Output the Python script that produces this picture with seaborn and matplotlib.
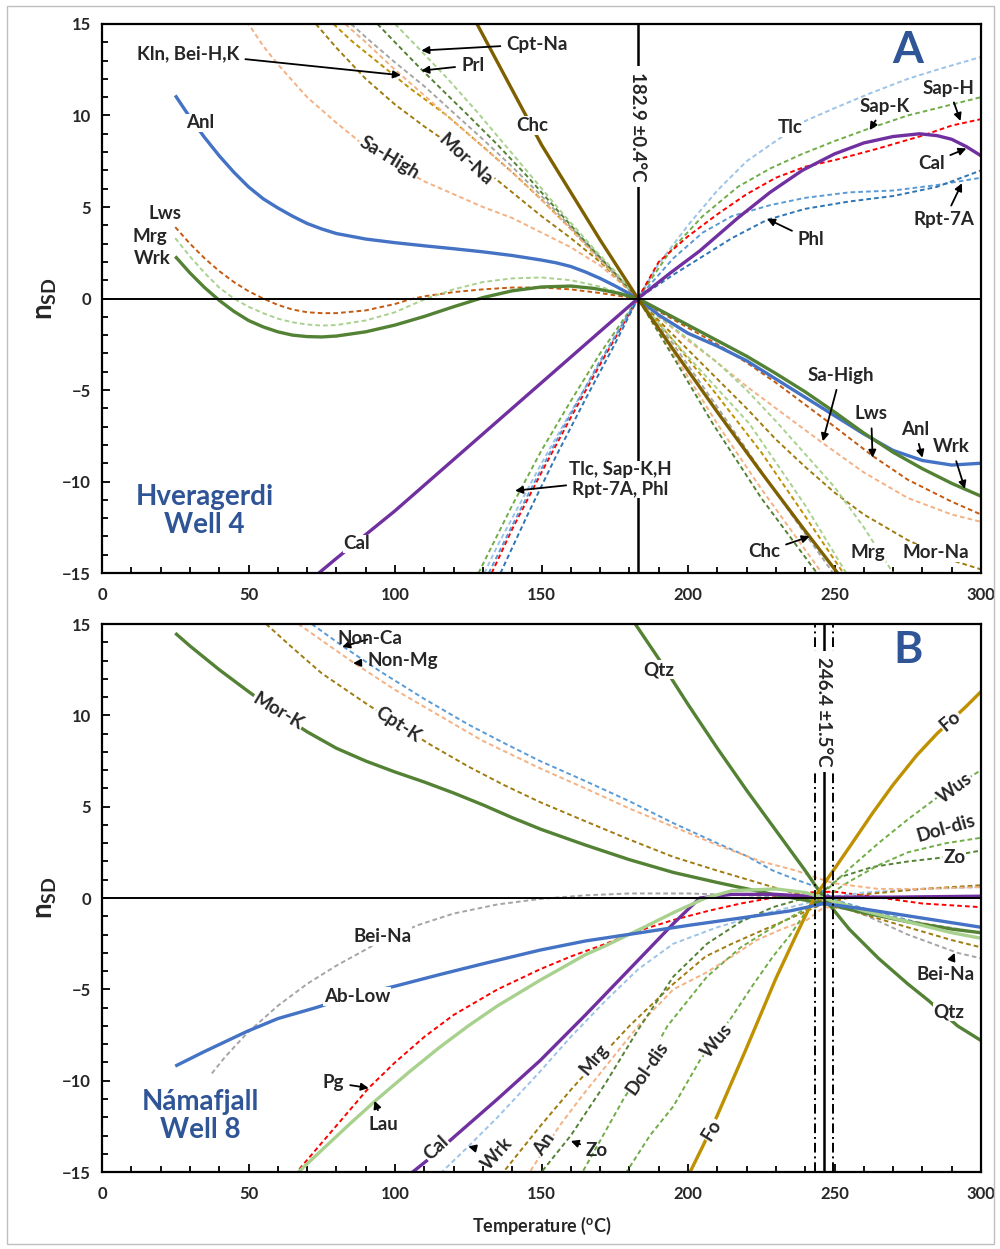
import matplotlib
matplotlib.use("Agg")
import matplotlib.pyplot as plt
import pandas as pd
import seaborn as sns
from matplotlib.patches import Rectangle
from matplotlib.ticker import MultipleLocator

# ---------------- Panel A: Hveragerdi Well 4  (temperature degC, n_SD) ----------------
A_T_EQ = 182.9
A_ANL = [(25, 11.1), (30, 9.9), (35, 8.8), (40, 7.8), (45, 6.9), (50, 6.1), (55, 5.45), (60, 4.95),
         (65, 4.5), (70, 4.1), (75, 3.8), (80, 3.55), (85, 3.4), (90, 3.25), (100, 3.05), (110, 2.88),
         (120, 2.72), (130, 2.55), (140, 2.35), (150, 2.1), (155, 1.95), (160, 1.75), (165, 1.45),
         (170, 1.1), (175, 0.7), (179, 0.35), (182.9, 0.0), (190, -0.9), (200, -1.9), (210, -2.6),
         (220, -3.4), (230, -4.4), (240, -5.4), (250, -6.4), (260, -7.4), (270, -8.3), (280, -8.85),
         (290, -9.1), (300, -9.0)]
A_WRK = [(25, 2.3), (30, 1.4), (35, 0.6), (40, -0.1), (45, -0.7), (50, -1.2), (55, -1.55), (60, -1.82),
         (65, -2.0), (70, -2.08), (75, -2.1), (80, -2.05), (90, -1.82), (100, -1.45), (110, -0.98),
         (120, -0.45), (130, 0.05), (140, 0.42), (150, 0.63), (160, 0.68), (168, 0.55), (176, 0.3),
         (182.9, 0.0), (190, -0.6), (200, -1.45), (210, -2.3), (220, -3.15), (230, -4.1), (240, -5.1),
         (250, -6.2), (260, -7.35), (270, -8.4), (280, -9.3), (290, -10.1), (300, -10.8)]
A_MRG = [(25, 3.3), (30, 2.3), (35, 1.4), (40, 0.6), (45, 0.0), (50, -0.45), (55, -0.8), (60, -1.1),
         (65, -1.3), (70, -1.42), (75, -1.48), (80, -1.45), (90, -1.2), (100, -0.75), (110, -0.05),
         (120, 0.5), (130, 0.9), (140, 1.1), (150, 1.15), (160, 1.0), (170, 0.65), (176, 0.35),
         (182.9, 0.0), (190, -1.0), (200, -2.2), (210, -3.5), (220, -5.0), (230, -6.7), (240, -8.5),
         (250, -10.3), (260, -12.5), (270, -15.0), (275, -16.3)]
A_LWS = [(25, 3.9), (30, 3.0), (35, 2.2), (40, 1.5), (45, 0.9), (50, 0.4), (55, 0.0), (60, -0.35),
         (65, -0.6), (70, -0.75), (75, -0.8), (80, -0.8), (90, -0.65), (100, -0.3), (105, -0.05),
         (110, 0.12), (120, 0.35), (130, 0.5), (140, 0.6), (150, 0.6), (160, 0.5), (170, 0.3),
         (176, 0.15), (182.9, 0.0), (190, -0.7), (200, -1.6), (210, -2.5), (220, -3.5), (230, -4.6),
         (240, -5.8), (250, -7.0), (263, -8.6), (275, -9.9), (290, -11.1), (300, -11.8)]
A_SAHIGH = [(48, 15.5), (50, 15.0), (55, 13.8), (60, 12.8), (70, 11.0), (80, 9.6), (90, 8.3),
            (100, 7.3), (110, 6.4), (120, 5.7), (130, 5.0), (140, 4.4), (150, 3.6), (160, 2.8),
            (170, 1.8), (176, 1.0), (182.9, 0.0), (190, -1.0), (200, -2.3), (210, -3.5), (220, -4.8),
            (230, -6.0), (246, -7.9), (260, -9.5), (275, -10.9), (290, -11.8), (300, -12.2)]
A_MORNA = [(73, 15.0), (80, 13.7), (90, 12.0), (100, 10.6), (110, 9.4), (120, 8.3), (130, 7.1),
           (140, 5.8), (150, 4.5), (160, 3.3), (170, 2.0), (176, 1.1), (182.9, 0.0), (190, -1.2),
           (200, -2.8), (210, -4.4), (220, -6.0), (230, -7.7), (240, -9.2), (250, -10.6),
           (260, -11.8), (275, -13.2), (290, -14.3), (300, -14.8)]
A_CHC = [(126, 15.5), (128, 15.0), (135, 12.9), (142, 10.8), (150, 8.4), (160, 5.8), (170, 3.2),
         (182.9, 0.0), (195, -2.8), (210, -6.2), (225, -9.5), (240, -12.7), (253, -15.4)]
A_KLN = [(79, 15.0), (85, 14.1), (95, 12.8), (105, 11.5), (117.7, 10.0), (130, 8.3), (140, 6.9),
         (150, 5.4), (160, 3.8), (170, 2.1), (182.9, 0.0), (195, -2.3), (210, -5.3), (225, -8.4),
         (240, -11.9), (253, -15.0), (256, -15.8)]
A_BEIH = [(83, 15.0), (90, 14.0), (100, 12.5), (110, 11.1), (117.7, 10.0), (130, 8.3), (140, 6.9),
          (150, 5.4), (160, 3.8), (170, 2.1), (182.9, 0.0), (195, -3.0), (210, -6.85), (225, -10.4),
          (245.7, -15.0), (248, -15.6)]
A_BEIK = [(85, 15.0), (92, 14.0), (100, 12.9), (110, 11.6), (121, 10.0), (130, 8.7), (140, 7.2),
          (150, 5.6), (160, 3.9), (170, 2.2), (182.9, 0.0), (195, -2.5), (214, -6.85), (230, -10.6),
          (249.5, -15.0), (252, -15.6)]
A_PRL = [(94, 15.0), (100, 14.0), (108.5, 12.6), (118, 11.1), (125, 10.0), (135, 8.4), (145, 6.7),
         (155, 4.9), (165, 3.1), (175, 1.4), (182.9, 0.0), (195, -3.2), (208.5, -6.85),
         (225, -10.9), (244, -15.0), (246, -15.5)]
A_CPTNA = [(100, 15.0), (108.5, 13.6), (118, 12.0), (128, 10.2), (138, 8.3), (148, 6.4), (158, 4.5),
           (168, 2.7), (175, 1.5), (182.9, 0.0), (195, -2.3), (221, -6.85), (240, -11.3),
           (254, -15.0), (256, -15.5)]
A_TLC = [(130.5, -15.0), (135, -13.5), (140, -12.0), (150, -9.0), (160, -6.2), (170, -3.5),
         (182.9, 0.0), (190, 1.9), (200, 4.0), (210, 5.9), (220, 7.5), (229, 8.5), (240, 9.7),
         (250, 10.4), (262, 11.2), (275, 12.0), (285, 12.5), (300, 13.2)]
A_SAPK = [(128.5, -15.0), (140, -11.3), (150, -8.3), (160, -5.6), (170, -3.0), (182.9, 0.0),
          (194, 2.6), (205, 4.5), (217, 6.1), (228, 7.1), (239, 7.9), (250, 8.6), (262, 9.3),
          (275, 10.0), (290, 10.6), (300, 11.0)]
A_SAPH = [(133, -15.0), (140, -12.6), (150, -9.5), (160, -6.5), (170, -3.6), (182.9, 0.0),
          (190, 2.0), (200, 3.4), (210, 4.6), (220, 5.7), (230, 6.6), (240, 7.2), (251, 7.6),
          (265, 8.2), (280, 8.9), (290, 9.45), (300, 9.8)]
A_CAL = [(74, -15.0), (80, -14.2), (90, -12.9), (100, -11.6), (110, -10.2), (120, -8.8), (130, -7.4),
         (140, -6.0), (150, -4.6), (160, -3.2), (170, -1.8), (182.9, 0.0), (194, 1.4), (204, 2.6),
         (217, 4.4), (228, 5.8), (239, 7.0), (250, 7.9), (260, 8.5), (270, 8.85), (279, 9.0),
         (285, 8.9), (290, 8.7), (295, 8.3), (300, 7.8)]
A_PHL = [(136, -15.0), (145, -11.9), (155, -8.6), (165, -5.5), (175, -2.5), (182.9, 0.0), (195, 1.3),
         (204, 2.2), (215, 3.3), (227, 4.3), (240, 4.9), (255, 5.3), (270, 5.6), (285, 6.1),
         (300, 7.0)]
A_RPT7A = [(132, -15.0), (140, -12.4), (150, -9.3), (160, -6.3), (170, -3.4), (182.9, 0.0),
           (195, 2.2), (205, 3.6), (215, 4.5), (228, 5.1), (240, 5.5), (255, 5.8), (270, 5.9),
           (285, 6.2), (300, 6.6)]

# ---------------- Panel B: Namafjall Well 8 ----------------
B_T_EQ = 246.4
B_T_ERR = 3.0
B_MORK = [(25, 14.5), (30, 13.8), (40, 12.5), (50, 11.3), (60, 10.15), (70, 9.1), (80, 8.2), (90, 7.5),
          (100, 6.9), (110, 6.35), (120, 5.75), (130, 5.1), (140, 4.4), (150, 3.75), (165, 2.9),
          (180, 2.1), (195, 1.4), (210, 0.85), (229, 0.2), (246.4, -0.3), (260, -0.8), (275, -1.3),
          (290, -1.7), (300, -1.9)]
B_QTZ = [(181, 15.5), (182, 15.0), (190, 13.1), (200, 10.6), (210, 8.2), (220, 5.9), (230, 3.7),
         (240, 1.5), (246.4, 0.0), (255, -1.7), (265, -3.3), (275, -4.7), (282, -5.6), (292, -7.0),
         (300, -7.8)]
B_FO = [(200, -15.2), (200.7, -15.0), (205, -13.6), (210, -11.9), (220, -8.2), (230, -4.4),
        (237, -2.0), (243, 0.0), (250, 1.6), (256, 3.0), (263, 4.65), (270, 6.2), (278, 7.8),
        (285, 9.0), (295, 10.5), (300, 11.3)]
B_CAL = [(106, -15.0), (113, -14.1), (120, -13.1), (135, -11.0), (149.5, -8.9), (165, -6.4),
         (180, -3.9), (195, -1.4), (204, 0.0), (215, 0.2), (230, 0.2), (246.4, 0.05), (270, 0.05),
         (300, 0.1)]
B_LAU = [(66, -15.5), (67, -15.0), (75, -13.8), (85, -12.3), (94, -11.0), (105, -9.5), (115, -8.2),
         (125, -7.0), (135, -5.9), (149.5, -4.5), (165, -3.1), (172, -2.6), (185, -1.6), (195, -0.8),
         (206, 0.0), (215, 0.4), (230, 0.5), (240, 0.3), (246.4, 0.0), (260, -0.7), (275, -1.3),
         (290, -1.9), (300, -2.2)]
B_ABLOW = [(25, -9.2), (35, -8.4), (49.5, -7.3), (60, -6.6), (73, -6.0), (85, -5.4), (100.6, -4.8),
           (115, -4.2), (130, -3.6), (149.5, -2.85), (165, -2.35), (183.6, -1.9), (200, -1.5),
           (217.7, -1.1), (235, -0.7), (246.4, -0.3), (260, -0.6), (280, -1.1), (300, -1.6)]
B_BEINA = [(37.5, -9.6), (42, -8.7), (49.5, -7.4), (60, -5.9), (70, -4.7), (80, -3.7), (92.5, -2.6),
           (107.5, -1.5), (120, -0.85), (135, -0.35), (149.5, -0.05), (165, 0.15), (180, 0.25),
           (200, 0.25), (220, 0.15), (235, 0.05), (246.4, -0.2), (260, -0.9), (275, -2.0),
           (292, -3.0), (300, -3.3)]
B_PG = [(66, -15.2), (66.5, -15.0), (75, -13.4), (83, -11.9), (91, -10.4), (100, -9.0), (110, -7.6),
        (120, -6.4), (135, -5.0), (149.5, -3.9), (160, -3.2), (172, -2.5), (183, -1.8), (195, -1.2),
        (207, -0.7), (218, -0.3), (230, 0.05), (240, 0.3), (250, 0.35), (262, 0.1), (280, -0.3),
        (300, -0.5)]
B_WRK = [(115, -15.5), (116, -15.0), (125, -13.6), (135, -12.0), (149.5, -9.5), (160, -7.6),
         (172, -5.6), (183, -3.9), (195, -2.5), (210, -1.6), (225, -0.9), (240, -0.3), (246.4, 0.0),
         (260, 0.3), (280, 0.5), (300, 0.6)]
B_MRG = [(136, -15.2), (137, -15.0), (149.5, -12.5), (160, -10.5), (169, -8.9), (180, -7.0),
         (195, -4.7), (206, -3.2), (215, -2.5), (223.5, -1.9), (235, -1.1), (246.4, -0.3),
         (260, 0.2), (280, 0.5), (300, 0.7)]
B_AN = [(145, -15.3), (146, -15.0), (156, -12.5), (164, -10.8), (172, -9.2), (183, -7.0), (195, -5.0),
        (206, -4.1), (215, -3.2), (223.5, -2.3), (232, -1.7), (240.6, -1.2), (246.4, -0.5),
        (255, -0.6), (270, -1.1), (285, -1.5), (300, -1.9)]
B_ZO = [(149, -15.3), (150, -15.0), (160, -13.0), (172, -10.1), (183, -7.2), (195, -4.3),
        (206.5, -2.5), (218, -1.3), (229, -0.5), (240, 0.0), (246.4, 0.4), (252, 1.15), (263, 1.7),
        (275, 2.0), (286, 2.2), (300, 2.6)]
B_DOLDIS = [(163, -15.3), (164, -15.0), (171, -13.0), (178, -11.0), (186, -9.0), (193, -7.0),
            (200, -5.6), (206.5, -4.3), (218, -2.7), (229, -1.6), (240, -0.6), (246.4, 0.0),
            (255, 0.9), (265, 1.8), (275, 2.5), (288, 3.0), (300, 3.3)]
B_WUS = [(178, -15.5), (179, -15.0), (187, -13.0), (195, -11.4), (204, -8.9), (215, -6.5),
         (222, -4.8), (229, -3.2), (235, -2.0), (240.6, -0.65), (246.4, 0.3), (255, 1.6), (265, 3.0),
         (275, 4.3), (285, 5.5), (297, 6.7), (300, 7.0)]
B_NONCA = [(71.6, 15.0), (82, 13.8), (95, 12.4), (110, 10.9), (125, 9.5), (137, 8.5), (149.5, 7.5),
           (165, 6.4), (180, 5.3), (195, 4.1), (210, 3.0), (220, 2.3), (229, 1.5), (237, 1.0),
           (244, 0.6), (250, -0.1), (265, -0.8), (280, -1.4), (300, -1.9)]
B_NONMG = [(67, 15.0), (75, 14.1), (85.7, 12.9), (100, 11.4), (115, 10.0), (130, 8.6), (149.5, 7.1),
           (165, 6.0), (180, 4.9), (195, 3.9), (210, 2.9), (225, 2.0), (237, 1.5), (244, 1.1),
           (250, 0.8), (265, 0.5), (280, 0.5), (300, 0.6)]
B_CPTK = [(56, 15.0), (65, 13.7), (75, 12.3), (88.7, 10.8), (100, 9.6), (112, 8.4), (125, 7.2),
          (137, 6.2), (149.5, 5.25), (165, 4.2), (180, 3.2), (195, 2.25), (210, 1.5), (229, 0.6),
          (246.4, -0.2), (260, -0.9), (275, -1.6), (290, -2.3), (300, -2.7)]

# ---------------- colours / styles ----------------
BLUE, DKGREEN, PURPLE, OLIVE_D = "#4472C4", "#548235", "#7030A0", "#7F6000"
GOLD, LTGREEN, LTBLUE, MDBLUE = "#BF9000", "#A9D18E", "#9DC3E6", "#5B9BD5"
DKBLUE, RED, ORANGE, BROWN = "#2E75B6", "#FF0000", "#F4B183", "#C55A11"
OLIVE, GRAY, GREEN = "#A07C10", "#A5A5A5", "#70AD47"
TITLE_BLUE = "#2F5597"

THICK, THIN = 2.4, 1.4
LABEL_SIZE = 13.5

A_SERIES = [
    (A_SAHIGH, ORANGE, True), (A_MORNA, OLIVE, True), (A_KLN, GOLD, True), (A_BEIH, ORANGE, True),
    (A_BEIK, GRAY, True), (A_PRL, DKGREEN, True), (A_CPTNA, LTGREEN, True), (A_LWS, BROWN, True),
    (A_MRG, LTGREEN, True), (A_TLC, LTBLUE, True), (A_SAPK, GREEN, True), (A_SAPH, RED, True),
    (A_RPT7A, MDBLUE, True), (A_PHL, DKBLUE, True),
    (A_ANL, BLUE, False), (A_WRK, DKGREEN, False), (A_CHC, OLIVE_D, False), (A_CAL, PURPLE, False),
]
B_SERIES = [
    (B_BEINA, GRAY, True), (B_PG, RED, True), (B_WRK, LTBLUE, True), (B_MRG, OLIVE, True),
    (B_AN, ORANGE, True), (B_ZO, DKGREEN, True), (B_DOLDIS, GREEN, True), (B_WUS, GREEN, True),
    (B_NONCA, MDBLUE, True), (B_NONMG, ORANGE, True), (B_CPTK, OLIVE, True),
    (B_MORK, DKGREEN, False), (B_QTZ, DKGREEN, False), (B_FO, GOLD, False), (B_CAL, PURPLE, False),
    (B_LAU, LTGREEN, False), (B_ABLOW, BLUE, False),
]

sns.set_style("white")
plt.rcParams["font.family"] = ["Lato", "DejaVu Sans"]
plt.rcParams["font.weight"] = "bold"
plt.rcParams["mathtext.fontset"] = "custom"
plt.rcParams["mathtext.rm"] = "Lato"
plt.rcParams["mathtext.bf"] = "Lato:bold"

fig = plt.figure(figsize=(10, 12.49), dpi=100)
axA = fig.add_axes([0.102, 0.5412, 0.879, 0.4396])
axB = fig.add_axes([0.102, 0.0616, 0.879, 0.4388])

# light grey frame around the whole figure
fig.patches.append(Rectangle((0.007, 0.004), 0.987, 0.991, transform=fig.transFigure,
                             fill=False, edgecolor="#BFBFBF", lw=1.0))


def draw_series(ax, series):
    for pts, color, dashed in series:
        df = pd.DataFrame(pts, columns=["T", "n"])
        sns.lineplot(data=df, x="T", y="n", ax=ax, color=color, sort=False,
                     estimator=None, legend=False, lw=THIN if dashed else THICK)
        line = ax.lines[-1]
        line.set_linestyle((0, (2.4, 1.6)) if dashed else "-")
        line.set_solid_capstyle("butt")
        line.set_solid_joinstyle("round")
        line.set_zorder(2.2 if not dashed else 2.0)


def style_axes(ax):
    ax.set_xlim(0, 300)
    ax.set_ylim(-15, 15)
    ax.xaxis.set_major_locator(MultipleLocator(50))
    ax.xaxis.set_minor_locator(MultipleLocator(10))
    ax.yaxis.set_major_locator(MultipleLocator(5))
    ax.yaxis.set_minor_locator(MultipleLocator(1))
    ax.tick_params(which="both", direction="in", bottom=True, left=True, top=False, right=False,
                   width=1.3, color="black")
    ax.tick_params(which="major", length=6, labelsize=12, pad=10)
    ax.tick_params(axis="y", which="major", pad=8)
    ax.tick_params(which="minor", length=4)
    for lab in ax.get_xticklabels() + ax.get_yticklabels():
        lab.set_fontweight("bold")
    for sp in ax.spines.values():
        sp.set_color("black")
        sp.set_linewidth(1.6)
    ax.axhline(0, color="black", lw=1.4, zorder=2.5)
    ax.set_ylabel(r"$\mathbf{n}_{\mathbf{SD}}$", fontsize=20, labelpad=2)
    ax.set_xlabel("")


def label(ax, x, y, s, rot=0, size=LABEL_SIZE, box=True, pad=0.6, **kw):
    bb = dict(facecolor="white", edgecolor="none", pad=pad) if box else None
    ax.text(x, y, s, rotation=rot, fontsize=size, fontweight="bold", ha="center", va="center",
            rotation_mode="anchor", bbox=bb, zorder=5, **kw)


def vlabel(ax, x, y, s):
    ax.text(x, y, s, rotation=-90, fontsize=13.5, fontweight="bold", ha="center", va="center",
            rotation_mode="default", zorder=5,
            bbox=dict(facecolor="white", edgecolor="none", pad=4))


def arrow(ax, s, xy_text, xy_tip, size=LABEL_SIZE, box=False, rot=0):
    ax.annotate(s, xy=xy_tip, xytext=xy_text, fontsize=size, fontweight="bold", ha="center",
                va="center", rotation=rot, zorder=6,
                bbox=dict(facecolor="white", edgecolor="none", pad=0.3) if box else None,
                arrowprops=dict(arrowstyle="-|>", color="black", lw=1.3, mutation_scale=11,
                                shrinkA=2, shrinkB=0))


# ---------------- Panel A ----------------
draw_series(axA, A_SERIES)
style_axes(axA)
axA.axvline(A_T_EQ, color="black", lw=1.8, zorder=2.6)
vlabel(axA, A_T_EQ, 9.4, "182.9 \u00b10.4\u00b0C")

label(axA, 33.4, 9.6, "Anl")
label(axA, 98, 7.7, "Sa-High", rot=-31)
label(axA, 124, 7.6, "Mor-Na", rot=-43)
label(axA, 147, 9.45, "Chc")
label(axA, 235, 9.35, "Tlc")
label(axA, 87, -13.4, "Cal")
label(axA, 21.5, 4.65, "Lws", box=False)
label(axA, 16.5, 3.4, "Mrg", box=False)
label(axA, 17, 2.2, "Wrk", box=False)
label(axA, 261.5, -13.9, "Mrg")
label(axA, 284.5, -13.9, "Mor-Na")
axA.text(35, -11.6, "Hveragerdi\nWell 4", color=TITLE_BLUE, fontsize=20, fontweight="bold",
         ha="center", va="center", linespacing=1.1, zorder=5)
axA.text(275, 13.6, "A", color=TITLE_BLUE, fontsize=32, fontweight="bold", ha="center",
         va="center", zorder=5)

arrow(axA, "Kln, Bei-H,K", (29.4, 13.4), (102, 12.2))
arrow(axA, "Prl", (126.5, 12.75), (109, 12.45))
arrow(axA, "Cpt-Na", (148.5, 13.9), (109, 13.55))
arrow(axA, "Sap-K", (267, 10.5), (262, 9.2))
arrow(axA, "Sap-H", (289, 11.5), (293, 9.7))
arrow(axA, "Cal", (283, 7.4), (295, 8.2))
arrow(axA, "Rpt-7A", (287.5, 4.3), (293.5, 6.3))
arrow(axA, "Phl", (242, 3.2), (227, 4.35))
arrow(axA, "Tlc, Sap-K,H\nRpt-7A, Phl", (177, -9.9), (141, -10.5), box=True)
arrow(axA, "Sa-High", (252, -4.2), (246, -7.8))
arrow(axA, "Lws", (262.5, -6.3), (263, -8.7))
arrow(axA, "Anl", (277.5, -7.15), (280, -8.7))
arrow(axA, "Wrk", (290, -8.1), (294.5, -10.4))
arrow(axA, "Chc", (226, -13.85), (241.5, -13.0))

# ---------------- Panel B ----------------
draw_series(axB, B_SERIES)
style_axes(axB)
axB.axvline(B_T_EQ, color="black", lw=1.8, zorder=2.6)
for dx in (-B_T_ERR, B_T_ERR):
    axB.axvline(B_T_EQ + dx, color="black", lw=1.4, ls=(0, (5, 2, 1, 2)), zorder=2.6)
vlabel(axB, B_T_EQ, 10.2, "246.4 \u00b11.5\u00b0C")

label(axB, 60, 10.2, "Mor-K", rot=-31)
label(axB, 101, 9.5, "Cpt-K", rot=-33)
label(axB, 190, 12.5, "Qtz")
label(axB, 289.5, 9.7, "Fo", rot=40)
label(axB, 291, 6.0, "Wus", rot=37)
label(axB, 288, 3.8, "Dol-dis", rot=16)
label(axB, 291, 2.2, "Zo")
label(axB, 95.6, -2.1, "Bei-Na")
label(axB, 87, -5.4, "Ab-Low")
label(axB, 289, -6.25, "Qtz")
label(axB, 114, -13.7, "Cal", rot=43)
label(axB, 151, -13.5, "An", rot=55)
label(axB, 168, -8.8, "Mrg", rot=50)
label(axB, 186, -9.3, "Dol-dis", rot=55)
label(axB, 210, -7.8, "Wus", rot=50)
label(axB, 208, -12.7, "Fo", rot=58)
axB.text(33.5, -11.95, "N\u00e1mafjall\nWell 8", color=TITLE_BLUE, fontsize=20, fontweight="bold",
         ha="center", va="center", linespacing=1.1, zorder=5)
axB.text(275, 13.6, "B", color=TITLE_BLUE, fontsize=32, fontweight="bold", ha="center",
         va="center", zorder=5)

arrow(axB, "Non-Ca", (91.5, 14.2), (82, 13.75))
arrow(axB, "Non-Mg", (102.5, 13.0), (85.7, 12.85))
arrow(axB, "Bei-Na", (288, -4.2), (291, -3.0))
arrow(axB, "Pg", (79, -10.1), (91, -10.4))
arrow(axB, "Lau", (96, -12.4), (93, -11.1))
arrow(axB, "Wrk", (135, -14.0), (125, -13.6), rot=48)
arrow(axB, "Zo", (169, -13.8), (160, -13.3))

axB.set_xlabel(r"Temperature ($^{\mathbf{o}}$C)", fontsize=13, fontweight="bold", labelpad=9)

fig.savefig("out.png", dpi=100, facecolor="white")
